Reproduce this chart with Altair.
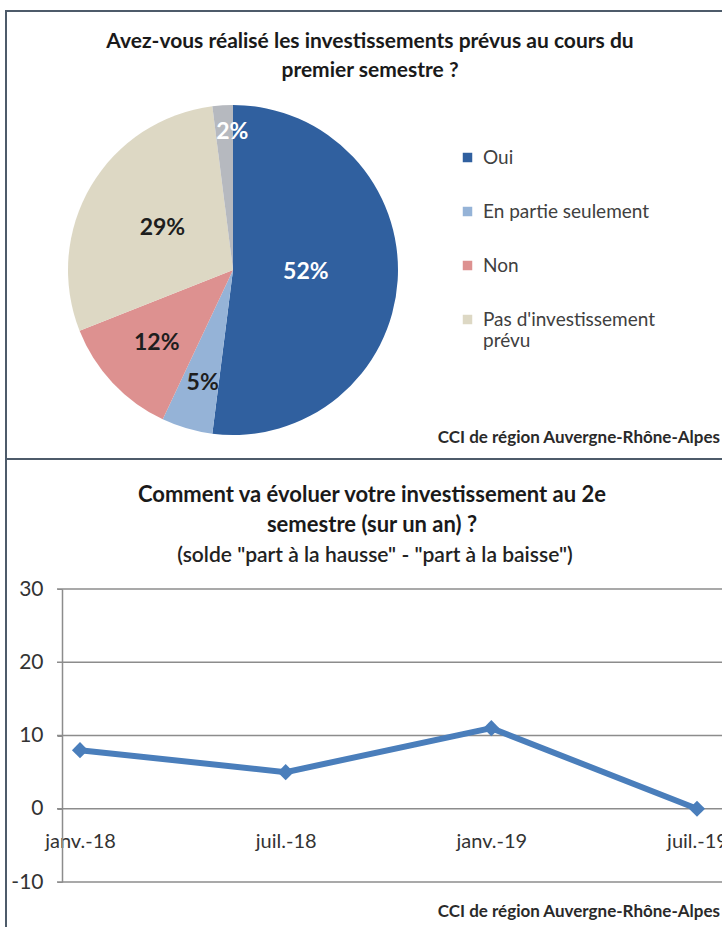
import altair as alt
import pandas as pd

# ---------------- data ----------------
pie_categories = ["Oui", "En partie seulement", "Non", "Pas d'investissement prévu", "Sans réponse"]
pie_values = [52, 5, 12, 29, 2]
legend_categories = ["Oui", "En partie seulement", "Non", "Pas d'investissement prévu"]

periods = ["janv.-18", "juil.-18", "janv.-19", "juil.-19"]
solde = [8, 5, 11, 0]
y_ticks = [-10, 0, 10, 20, 30]

title1 = ["Avez-vous réalisé les investissements prévus au cours du", "premier semestre ?"]
title2 = ["Comment va évoluer votre investissement au 2e", "semestre (sur un an) ?"]
subtitle2 = '(solde "part à la hausse" - "part à la baisse")'
source = "CCI de région Auvergne-Rhône-Alpes"

# ---------------- styling ----------------
FONT = "Lato"
W, H = 722, 927
BORDER = "#4d5b6a"
LINE_BLUE = "#4a7ebb"
GRID = "#8c8c8c"
CX, CY, R = 233, 270, 165
pie_colors = ["#30609f", "#95b3d7", "#dd9190", "#ddd8c4", "#b6b9bf"]
# label distance from the pie centre, and small nudges, per slice
label_style = {
    "Oui": (73, 0, -3, "white"),
    "En partie seulement": (116, 2, 2, "#1e1e1e"),
    "Non": (106, 1, 0, "#1e1e1e"),
    "Pas d'investissement prévu": (82, 0, 0, "#1e1e1e"),
    "Sans réponse": (139, 8, 1, "white"),
}

pie_df = pd.DataFrame({"cat": pie_categories, "pct": pie_values, "rank": list(range(len(pie_values)))})
line_df = pd.DataFrame({"period": periods, "solde": solde})
grid_df = pd.DataFrame({"tick": y_ticks})
one = pd.DataFrame({"k": [0]})

theta_scale = alt.Scale(domain=[0, 100])
color_scale = alt.Scale(domain=pie_categories, range=pie_colors)

# borders of the two panels
border_top = alt.Chart(one).mark_rect(fill="transparent", stroke=BORDER, strokeWidth=2).encode(
    x=alt.value(6), x2=alt.value(730), y=alt.value(11), y2=alt.value(459)
)
border_left = alt.Chart(one).mark_rule(color=BORDER, strokeWidth=2).encode(
    x=alt.value(6), y=alt.value(459), y2=alt.value(940)
)

# pie
pie = alt.Chart(pie_df).mark_arc(radius=R).encode(
    x=alt.value(CX),
    y=alt.value(CY),
    theta=alt.Theta("pct:Q", stack=True, scale=theta_scale),
    order=alt.Order("rank:Q"),
    color=alt.Color(
        "cat:N",
        scale=color_scale,
        sort=pie_categories,
        legend=alt.Legend(
            title=None,
            orient="none",
            legendX=458,
            legendY=148,
            values=legend_categories,
            symbolType="square",
            symbolSize=90,
            symbolStrokeWidth=0,
            labelFont=FONT,
            labelFontSize=19,
            labelColor="#404040",
            labelLimit=300,
            labelOffset=6,
            rowPadding=34,
            labelExpr='datum.label == "Pas d\'investissement prévu" ? ["Pas d\'investissement", "prévu"] : datum.label',
        ),
    ),
)

lab_base = (
    alt.Chart(pie_df)
    .transform_window(cum="sum(pct)", sort=[alt.SortField("rank")], frame=[None, 0])
    .transform_calculate(mid="datum.cum - datum.pct / 2", label="datum.pct + '%'")
)

pie_labels = []
for cat in pie_categories:
    radius, ddx, ddy, col = label_style[cat]
    pie_labels.append(
        lab_base.transform_filter(alt.datum.cat == cat)
        .mark_text(radius=radius, dx=ddx, dy=ddy, font=FONT, fontSize=23, fontWeight="bold", color=col)
        .encode(
            x=alt.value(CX),
            y=alt.value(CY),
            theta=alt.Theta("mid:Q", scale=theta_scale),
            text="label:N",
        )
    )

# line chart
x_enc = alt.X(
    "period:N",
    sort=periods,
    scale=alt.Scale(type="point", domain=periods, range=[80, 697], padding=0),
    axis=alt.Axis(
        orient="bottom",
        offset=-(H - 808),
        domain=False,
        ticks=False,
        grid=False,
        title=None,
        labelAngle=0,
        labelFont=FONT,
        labelFontSize=20,
        labelColor="#333333",
        labelPadding=23,
    ),
)
y_scale = alt.Scale(domain=[-10, 30], range=[882, 589], nice=False, zero=False)
y_axis = alt.Axis(
    orient="left",
    offset=-62,
    values=y_ticks,
    labelExpr="'' + datum.value",
    domain=True,
    domainColor=GRID,
    domainWidth=1.5,
    ticks=True,
    tickSize=5,
    tickColor=GRID,
    grid=False,
    title=None,
    labelFont=FONT,
    labelFontSize=21,
    labelColor="#333333",
    labelPadding=14,
)

grid = alt.Chart(grid_df).mark_rule(color=GRID, strokeWidth=1.5).encode(
    y=alt.Y("tick:Q", scale=y_scale, axis=y_axis),
    x=alt.value(57),
    x2=alt.value(730),
)

line = alt.Chart(line_df).mark_line(color=LINE_BLUE, strokeWidth=6).encode(
    x=x_enc,
    y=alt.Y("solde:Q", scale=y_scale, axis=y_axis),
)
points = alt.Chart(line_df).mark_point(
    shape="diamond", filled=True, size=260, color=LINE_BLUE, opacity=1
).encode(x=x_enc, y=alt.Y("solde:Q", scale=y_scale, axis=y_axis))


def text_at(txt, x, y, size, weight="bold", align="center", color="#1a1a1a"):
    return alt.Chart(one).mark_text(
        text=txt, font=FONT, fontSize=size, fontWeight=weight, align=align, baseline="middle", color=color
    ).encode(x=alt.value(x), y=alt.value(y))


texts = [
    text_at(title1[0], 370, 42, 21),
    text_at(title1[1], 370, 71, 21),
    text_at(source, 720, 438, 17, align="right", color="#2a2a2a"),
    text_at(title2[0], 372, 495, 22),
    text_at(title2[1], 372, 525, 22),
    text_at(subtitle2, 375, 556, 21, weight=600, color="#222222"),
    text_at(source, 720, 912, 17, align="right", color="#2a2a2a"),
]

chart = (
    alt.layer(
        border_top,
        border_left,
        pie,
        *pie_labels,
        grid,
        line,
        points,
        *texts,
    )
    .properties(width=W, height=H, padding=0, autosize=alt.AutoSizeParams(type="none"), background="white")
    .configure_view(stroke="transparent")
)

chart.save("out.html", embed_options={"renderer": "svg", "actions": False})
